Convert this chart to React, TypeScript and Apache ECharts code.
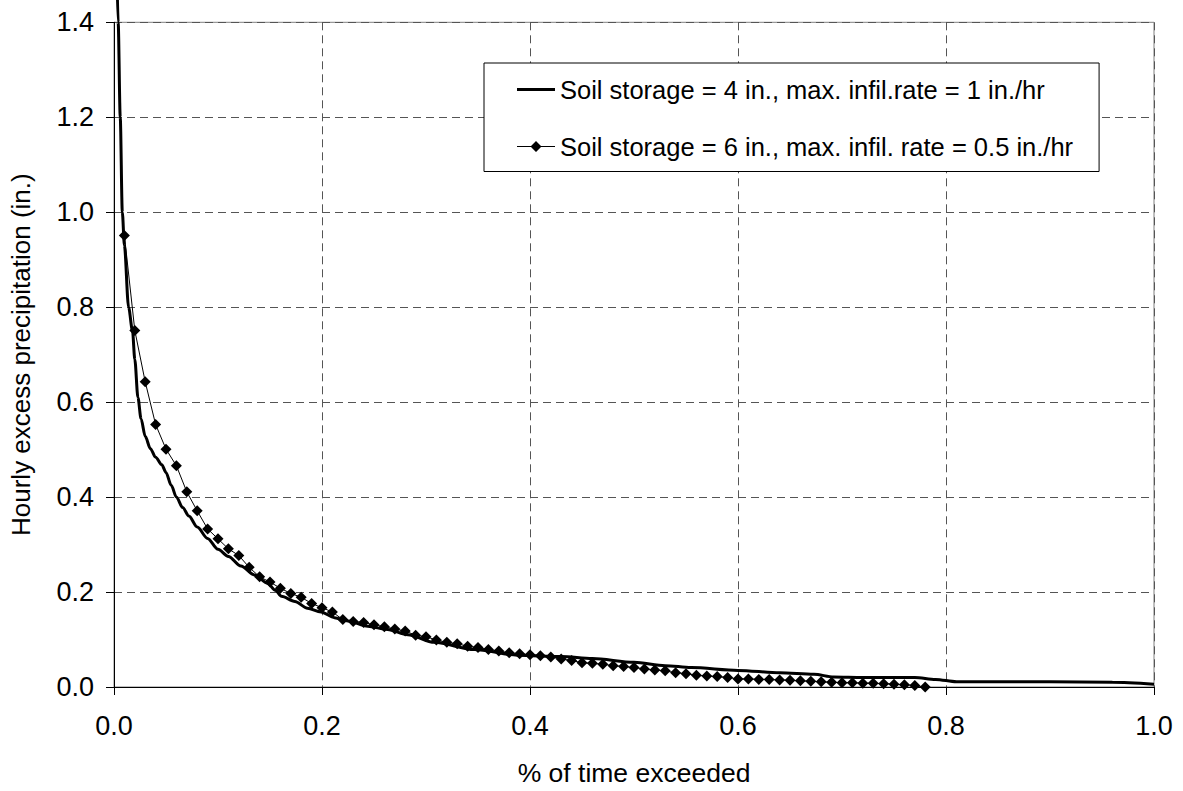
import React, { useEffect, useRef } from "react";
import * as echarts from "echarts";

const NAME_A = "Soil storage = 4 in., max. infil.rate = 1 in./hr";
const NAME_B = "Soil storage = 6 in., max. infil. rate = 0.5 in./hr";

const xTicks = ["0.0", "0.2", "0.4", "0.6", "0.8", "1.0"];
const yTicks = ["0.0", "0.2", "0.4", "0.6", "0.8", "1.0", "1.2", "1.4"];

// Series A: solid thick curve
const aX = [0.0028, 0.004, 0.006, 0.008, 0.010, 0.014, 0.0178, 0.020, 0.023, 0.026, 0.030, 0.035, 0.040, 0.046, 0.050, 0.055, 0.060, 0.066, 0.072, 0.080, 0.090, 0.100, 0.110, 0.122, 0.135, 0.148, 0.155, 0.161, 0.174, 0.186, 0.199, 0.212, 0.225, 0.244, 0.263, 0.2825, 0.308, 0.3465, 0.388, 0.43, 0.46, 0.50, 0.53, 0.555, 0.60, 0.64, 0.673, 0.692, 0.72, 0.77, 0.79, 0.81, 0.90, 0.96, 1.00];
const aY = [1.5, 1.4, 1.2, 1.0, 0.93, 0.80, 0.75, 0.69, 0.61, 0.565, 0.528, 0.502, 0.484, 0.468, 0.452, 0.425, 0.400, 0.378, 0.36, 0.337, 0.313, 0.290, 0.275, 0.255, 0.236, 0.218, 0.204, 0.191, 0.180, 0.166, 0.158, 0.146, 0.139, 0.128, 0.121, 0.110, 0.094, 0.079, 0.067, 0.064, 0.060, 0.052, 0.045, 0.041, 0.035, 0.030, 0.027, 0.021, 0.020, 0.020, 0.016, 0.011, 0.011, 0.010, 0.006];

// Series B: thin line with diamonds
const bX = [0.01, 0.02, 0.03, 0.04, 0.05, 0.06, 0.07, 0.08, 0.09, 0.10, 0.11, 0.12, 0.13, 0.14, 0.15, 0.16, 0.17, 0.18, 0.19, 0.20, 0.21, 0.22, 0.23, 0.24, 0.25, 0.26, 0.27, 0.28, 0.29, 0.30, 0.31, 0.32, 0.33, 0.34, 0.35, 0.36, 0.37, 0.38, 0.39, 0.40, 0.41, 0.42, 0.43, 0.44, 0.45, 0.46, 0.47, 0.48, 0.49, 0.50, 0.51, 0.52, 0.53, 0.54, 0.55, 0.56, 0.57, 0.58, 0.59, 0.60, 0.61, 0.62, 0.63, 0.64, 0.65, 0.66, 0.67, 0.68, 0.69, 0.70, 0.71, 0.72, 0.73, 0.74, 0.75, 0.76, 0.77, 0.78];
const bY = [0.951, 0.751, 0.643, 0.553, 0.501, 0.466, 0.411, 0.371, 0.333, 0.312, 0.291, 0.277, 0.252, 0.232, 0.221, 0.208, 0.197, 0.189, 0.176, 0.167, 0.158, 0.142, 0.138, 0.136, 0.131, 0.127, 0.122, 0.118, 0.109, 0.106, 0.099, 0.094, 0.091, 0.086, 0.083, 0.079, 0.076, 0.072, 0.070, 0.068, 0.066, 0.063, 0.059, 0.056, 0.051, 0.050, 0.048, 0.045, 0.043, 0.041, 0.038, 0.036, 0.034, 0.030, 0.028, 0.025, 0.023, 0.022, 0.020, 0.017, 0.017, 0.016, 0.016, 0.015, 0.014, 0.013, 0.012, 0.011, 0.010, 0.009, 0.009, 0.008, 0.008, 0.007, 0.006, 0.005, 0.003, 0.0];

const FONT = "'Liberation Sans', Arial, sans-serif";

// legend icons (bounding box 38 x 14 fixed by the corner moveTo points)
const ICON_A = "path://M0,0 M0,5.5 L38,5.5 L38,8.5 L0,8.5 Z M38,14";
const ICON_B = "path://M0,0 M0,6.5 L14,6.5 L19,1.5 L24,6.5 L38,6.5 L38,7.5 L24,7.5 L19,12.5 L14,7.5 L0,7.5 Z M38,14";

export default function App() {
  const ref = useRef<HTMLDivElement>(null);
  useEffect(() => {
    if (!ref.current) return;
    const chart = echarts.init(ref.current, undefined, { renderer: "svg" });
    const dataA = aX.map((x, i) => [x, aY[i]]);
    const dataB = bX.map((x, i) => [x, bY[i]]);
    chart.setOption({
      animation: false,
      backgroundColor: "#ffffff",
      textStyle: { fontFamily: FONT, color: "#000" },
      grid: {
        left: 112.5,
        right: 29,
        top: 22.3,
        bottom: 101.7,
        show: true,
        borderColor: "#808080",
        borderWidth: 1,
        backgroundColor: "transparent",
      },
      legend: {
        orient: "vertical",
        left: 484,
        top: 63,
        padding: [13.5, 26, 12, 33],
        itemGap: 31,
        itemWidth: 38,
        itemHeight: 14,
        borderColor: "#000",
        borderWidth: 1,
        backgroundColor: "#fff",
        textStyle: { fontFamily: FONT, fontSize: 25.5, color: "#000" },
        data: [
          { name: NAME_A, icon: ICON_A, itemStyle: { color: "#000", borderWidth: 0 } },
          { name: NAME_B, icon: ICON_B, itemStyle: { color: "#000", borderWidth: 0 } },
        ],
      },
      xAxis: {
        type: "value",
        min: 0,
        max: 1,
        interval: 0.2,
        name: "% of time exceeded",
        nameLocation: "middle",
        nameGap: 72,
        nameTextStyle: { fontFamily: FONT, fontSize: 26.5, color: "#000" },
        axisLine: { show: true, onZero: false, lineStyle: { color: "#000", width: 1 } },
        axisTick: { show: true, inside: false, length: 8, lineStyle: { color: "#000" } },
        axisLabel: {
          margin: 25,
          fontFamily: FONT,
          fontSize: 27,
          color: "#000",
          formatter: (v: number) => xTicks[Math.round(v / 0.2)] ?? v.toFixed(1),
        },
        splitLine: { show: true, lineStyle: { color: "#555", type: [8, 5], width: 1 } },
      },
      yAxis: {
        type: "value",
        min: 0,
        max: 1.4,
        interval: 0.2,
        name: "Hourly excess precipitation (in.)",
        nameLocation: "middle",
        nameRotate: 90,
        nameGap: 80,
        nameTextStyle: { fontFamily: FONT, fontSize: 26, color: "#000" },
        axisLine: { show: true, lineStyle: { color: "#000", width: 1 } },
        axisTick: { show: true, inside: false, length: 8, lineStyle: { color: "#000" } },
        axisLabel: {
          margin: 20,
          fontFamily: FONT,
          fontSize: 27,
          color: "#000",
          formatter: (v: number) => yTicks[Math.round(v / 0.2)] ?? v.toFixed(1),
        },
        splitLine: { show: true, lineStyle: { color: "#555", type: [8, 5], width: 1 } },
      },
      series: [
        {
          name: NAME_A,
          type: "line",
          data: dataA,
          showSymbol: false,
          symbol: "none",
          clip: false,
          smooth: 0.3,
          smoothMonotone: "x",
          lineStyle: { color: "#000", width: 3 },
          itemStyle: { color: "#000" },
          z: 3,
        },
        {
          name: NAME_B,
          type: "line",
          data: dataB,
          symbol: "diamond",
          symbolSize: 11,
          lineStyle: { color: "#000", width: 1 },
          itemStyle: { color: "#000" },
          z: 4,
        },
      ],
    });
    return () => chart.dispose();
  }, []);
  return (
    <div
      ref={ref}
      style={{ position: "absolute", left: 0, top: 0, width: 1183, height: 791 }}
    />
  );
}
